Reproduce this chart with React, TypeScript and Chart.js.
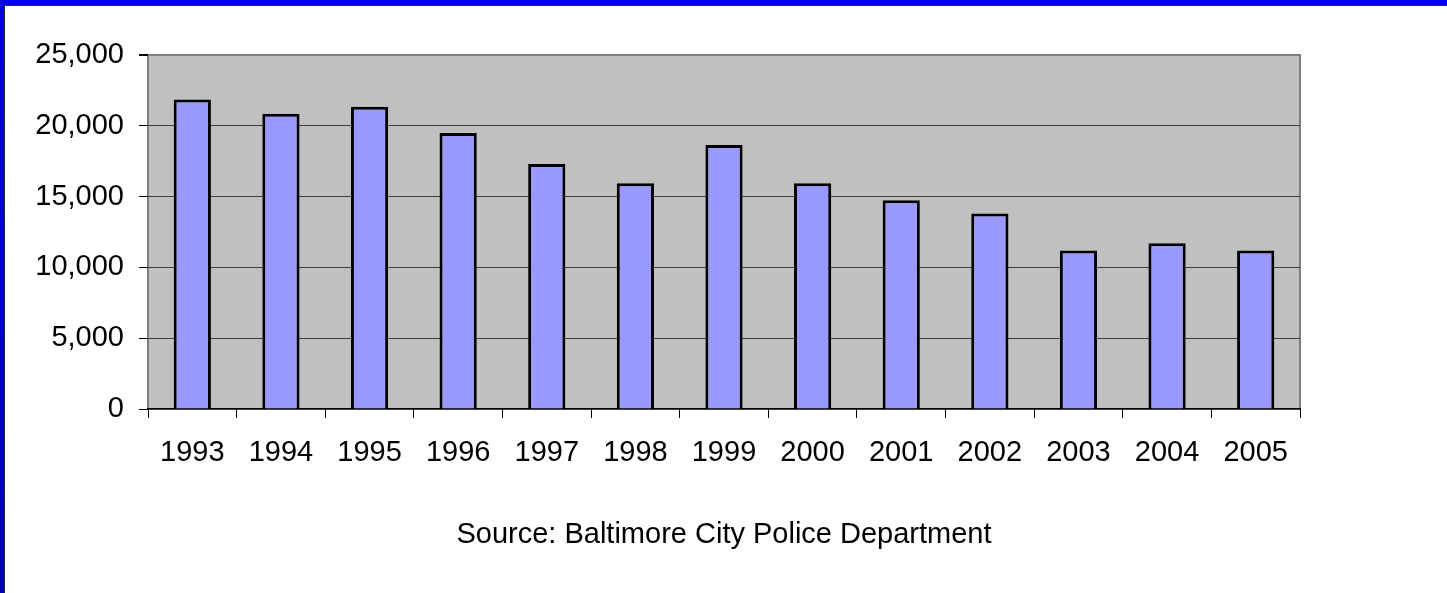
import React, { useEffect, useRef } from "react";
import { Chart, registerables } from "chart.js";

Chart.register(...registerables);

const years = ["1993", "1994", "1995", "1996", "1997", "1998", "1999", "2000", "2001", "2002", "2003", "2004", "2005"];
const values = [21850, 20850, 21350, 19500, 17300, 15950, 18650, 15950, 14750, 13800, 11200, 11700, 11200];
const yTicks = [0, 5000, 10000, 15000, 20000, 25000];
const sourceText = "Source: Baltimore City Police Department";

const FONT = "'Liberation Sans', Arial, sans-serif";

const plotBg = {
  id: "plotBg",
  beforeDraw(chart: any) {
    const { ctx, chartArea } = chart;
    if (!chartArea) return;
    ctx.save();
    ctx.fillStyle = "#C0C0C0";
    ctx.fillRect(chartArea.left, chartArea.top, chartArea.right - chartArea.left, chartArea.bottom - chartArea.top);
    ctx.strokeStyle = "#808080";
    ctx.lineWidth = 2;
    ctx.strokeRect(chartArea.left, chartArea.top, chartArea.right - chartArea.left, chartArea.bottom - chartArea.top);
    ctx.restore();
  },
};

export default function App() {
  const ref = useRef<HTMLCanvasElement>(null);
  useEffect(() => {
    document.body.style.margin = "0";
    const chart = new Chart(ref.current as HTMLCanvasElement, {
      type: "bar",
      data: {
        labels: years,
        datasets: [
          {
            data: values,
            backgroundColor: "#9999FF",
            borderColor: "#000000",
            borderWidth: 3,
            barPercentage: 0.42,
            categoryPercentage: 1,
          },
        ],
      },
      plugins: [plotBg],
      options: {
        responsive: false,
        animation: false,
        layout: { padding: { top: 55, right: 147, bottom: 0, left: 0 } },
        plugins: {
          legend: { display: false },
          tooltip: { enabled: false },
        },
        scales: {
          x: {
            afterFit(scale: any) {
              scale.height = 184;
            },
            title: {
              display: true,
              text: sourceText,
              color: "#000",
              font: { family: FONT, size: 29, weight: "normal" },
              padding: { top: 0, bottom: 40.5 },
            },
            grid: {
              drawOnChartArea: false,
              drawTicks: true,
              tickLength: 9,
              tickColor: "#000",
              offset: true,
            },
            border: { display: true, color: "#000", width: 1.5 },
            ticks: {
              color: "#000",
              padding: 18,
              font: { family: FONT, size: 29 },
              maxRotation: 0,
              autoSkip: false,
            },
          },
          y: {
            min: 0,
            max: 25000,
            afterFit(scale: any) {
              scale.width = 148;
            },
            afterBuildTicks(scale: any) {
              scale.ticks = yTicks.map((v) => ({ value: v }));
            },
            grid: {
              color: (c: any) => (c.tick && c.tick.value === 25000 ? "#808080" : c.tick && c.tick.value === 0 ? "rgba(0,0,0,0)" : "#404040"),
              lineWidth: (c: any) => (c.tick && c.tick.value === 25000 ? 2 : 1),
              tickLength: 9,
              tickColor: "#000",
            },
            border: { display: false },
            ticks: {
              color: "#000",
              padding: 15,
              font: { family: FONT, size: 29 },
              callback: (v: any) => Number(v).toLocaleString("en-US"),
            },
          },
        },
      },
    });
    return () => chart.destroy();
  }, []);

  return (
    <div style={{ position: "fixed", left: 0, top: 0, width: 1447, height: 593, background: "#fff", overflow: "hidden" }}>
      <canvas ref={ref} width={1447} height={593} style={{ position: "absolute", left: 0, top: 0 }} />
      <div
        style={{
          position: "absolute",
          left: 0,
          top: 0,
          width: 4,
          height: 593,
          background: "linear-gradient(#0000E6, #0000A8)",
          borderRight: "1px solid #202040",
        }}
      />
      <div
        style={{
          position: "absolute",
          left: 0,
          top: 0,
          width: 1447,
          height: 5,
          background: "#0000E6",
          borderBottom: "1px solid #202040",
        }}
      />
    </div>
  );
}
